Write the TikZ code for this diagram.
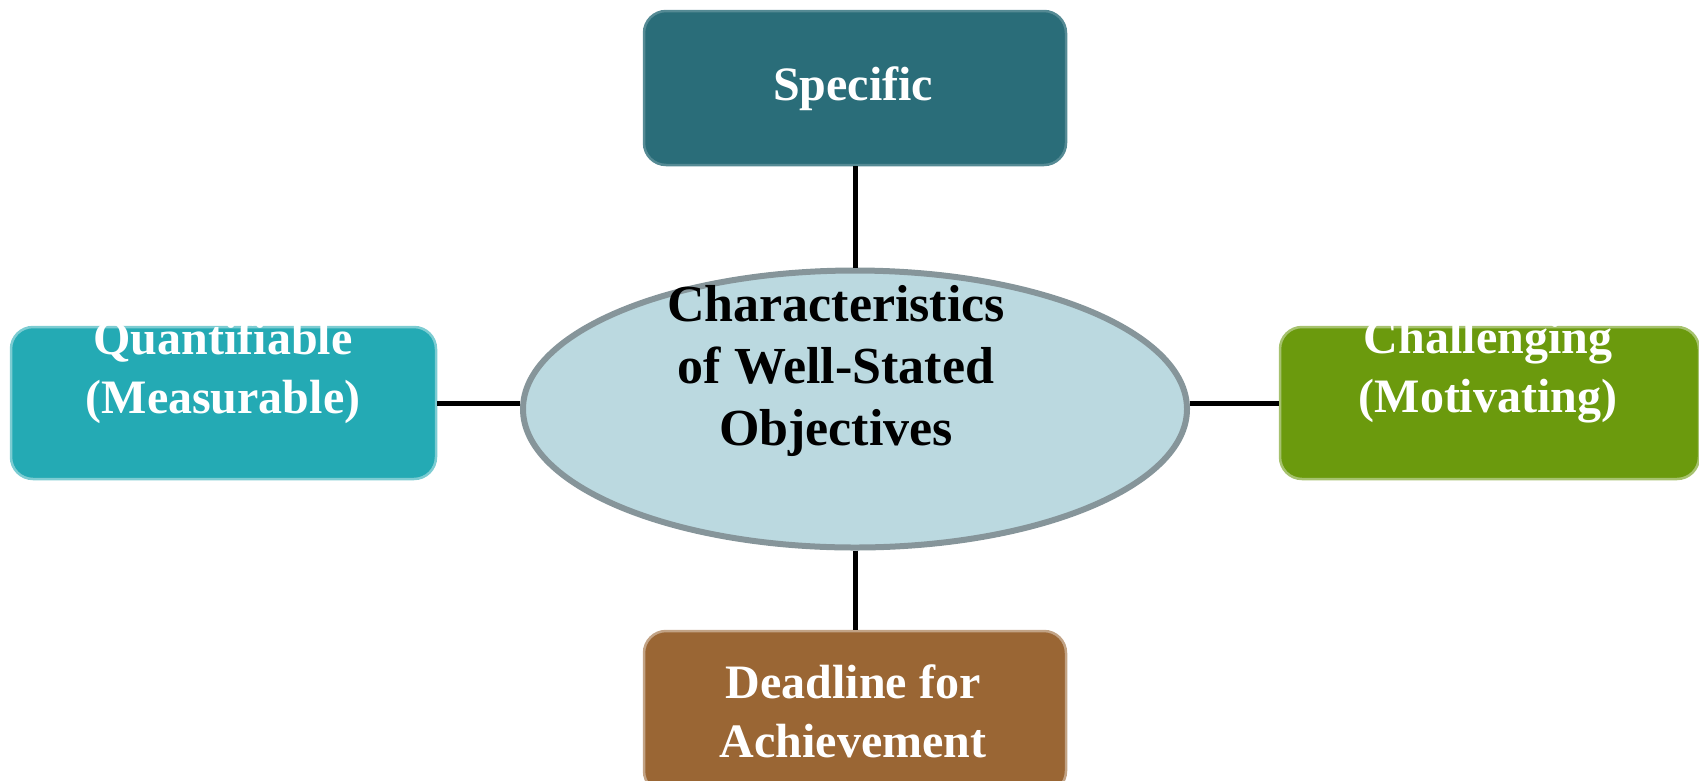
\documentclass[tikz,border=0pt]{standalone}
\usepackage{fontspec}
\setmainfont{Liberation Serif}
\usepackage{xcolor}
\usepackage{tikz}
\usetikzlibrary{shapes.geometric}
\definecolor{specificcol}{HTML}{2A6D79}
\definecolor{quantcol}{HTML}{24AAB4}
\definecolor{challcol}{HTML}{6B9A0D}
\definecolor{deadcol}{HTML}{9A6634}
\definecolor{centrecol}{HTML}{BBD9E0}
\definecolor{rimcol}{HTML}{86959A}
\tikzstyle{goalbox} = [rectangle, rounded corners=22pt, minimum width=422pt, minimum height=154pt, inner sep=0pt, line width=2.5pt]
\tikzstyle{goaltext} = [text=white, font=\fontsize{48}{59}\selectfont\bfseries, align=center, inner sep=0pt]
\tikzstyle{centre} = [ellipse, minimum width=664pt, minimum height=277pt, fill=centrecol, draw=rimcol, line width=6pt, inner sep=0pt]
\tikzstyle{link} = [line width=5pt, black]

\begin{document}
\begin{tikzpicture}[x=1pt, y=-1pt]
	\useasboundingbox (0,0) rectangle (1699,780);
	\node (spec) [goalbox, fill=specificcol, draw=specificcol!80!white] at (855,88) {};
	\node (quant) [goalbox, minimum width=425pt, minimum height=152pt, fill=quantcol, draw=quantcol!60!white] at (223.5,403) {};
	\node (chall) [goalbox, minimum width=419pt, minimum height=152pt, fill=challcol, draw=challcol!60!white] at (1489.5,403) {};
	\node (dead) [goalbox, minimum height=162pt, fill=deadcol, draw=deadcol!60!white] at (855,712) {};
	\node (obj) [centre] at (855,409) {};

	\node (spectext) [goaltext] at (853,89) {Specific};
	\node (quanttext) [goaltext] at (223,372) {Quantifiable\\(Measurable)};
	\node (challtext) [goaltext] at (1488,372) {Challenging\\(Motivating)};
	\node (deadtext) [goaltext] at (853,711) {Deadline for\\Achievement};
	\node (objtext) [goaltext, text=black, font=\fontsize{52}{62}\selectfont\bfseries] at (836,371) {Characteristics\\of Well-Stated\\Objectives};

	\draw [link] (spec.south) -- (spec.south |- obj.north);
	\draw [link] (dead.north |- obj.south) -- (dead.north);
	\draw [link] (quant.east) -- (quant.east -| obj.west);
	\draw [link] (chall.west -| obj.east) -- (chall.west);
\end{tikzpicture}
\end{document}
